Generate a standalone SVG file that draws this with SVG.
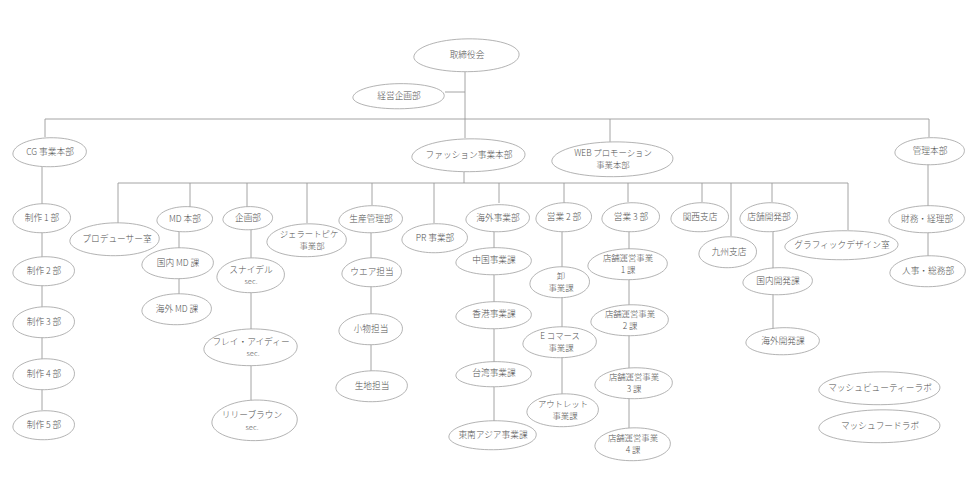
<svg xmlns="http://www.w3.org/2000/svg" xmlns:xlink="http://www.w3.org/1999/xlink" width="980" height="500" viewBox="0 0 980 500">
<style>
.bg{fill:#ffffff}
.c{fill:none;stroke:#9a9a9a;stroke-width:0.9}
.b{fill:#ffffff;stroke:#a0a0a0;stroke-width:0.8}
text{font-family:"Noto Sans CJK JP","Noto Sans",sans-serif;font-size:8.7px;fill:#505050;text-anchor:middle;font-weight:300}
text.t{font-size:8.4px}
text.s{font-size:7.5px;fill:#666666}
</style>
<defs>
<path id="blob" d="M -1,0.05 C -0.95,-0.55 -0.45,-0.98 0.1,-0.95 C 0.65,-0.92 1.02,-0.5 0.98,0.05 C 0.95,0.6 0.5,1.02 -0.1,0.98 C -0.62,0.95 -1.04,0.55 -1,0.05 Z" vector-effect="non-scaling-stroke"/>
</defs>
<rect class="bg" x="0" y="0" width="980" height="500"/>
<g id="connectors">
<path class="c" d="M465,72 V138 M445,92 H465 M45,119 H929 M45,119 V137 M610,119 V142 M929,119 V137"/>
<path class="c" d="M42,167 V410"/>
<path class="c" d="M464,172 V183 M118,183 H848 M118,183 V223 M190,183 V207 M247,183 V207 M307,183 V223 M372,183 V205 M434,183 V223 M499,183 V203 M564,183 V203 M628,183 V202 M702,183 V202 M731,183 V236 M772,183 V202 M848,183 V230"/>
<path class="c" d="M179,219 V300 M251,218 V420 M371,219 V386 M494,218 V435 M562,217 V410 M629,217 V444 M773,217 V341 M928,151 V271"/>
</g>
<g id="n-torishimari"><use class="b" xlink:href="#blob" transform="translate(467,55) scale(53,17)"/><text x="467" y="58">取締役会</text></g>
<g id="n-keiei"><use class="b" xlink:href="#blob" transform="translate(399,96) scale(46,13)"/><text x="399" y="99">経営企画部</text></g>
<g id="n-cg"><use class="b" xlink:href="#blob" transform="translate(50,152) scale(37,15)"/><text x="50" y="155">CG 事業本部</text></g>
<g id="n-fashion"><use class="b" xlink:href="#blob" transform="translate(469,155) scale(57,17)"/><text x="469" y="158">ファッション事業本部</text></g>
<g id="n-web"><use class="b" xlink:href="#blob" transform="translate(613,159) scale(61,18)"/><text class="t" x="613" y="156">WEB プロモーション</text><text class="t" x="613" y="168">事業本部</text></g>
<g id="n-kanri"><use class="b" xlink:href="#blob" transform="translate(930,151) scale(35,14)"/><text x="930" y="154">管理本部</text></g>
<g id="n-seisaku1"><use class="b" xlink:href="#blob" transform="translate(42,218) scale(29,15)"/><text x="42" y="221">制作 1 部</text></g>
<g id="n-seisaku2"><use class="b" xlink:href="#blob" transform="translate(44,271) scale(31,15)"/><text x="44" y="274">制作 2 部</text></g>
<g id="n-seisaku3"><use class="b" xlink:href="#blob" transform="translate(44,322) scale(31,16)"/><text x="44" y="325">制作 3 部</text></g>
<g id="n-seisaku4"><use class="b" xlink:href="#blob" transform="translate(44,374) scale(31,16)"/><text x="44" y="377">制作 4 部</text></g>
<g id="n-seisaku5"><use class="b" xlink:href="#blob" transform="translate(44,425) scale(31,15)"/><text x="44" y="428">制作 5 部</text></g>
<g id="n-producer"><use class="b" xlink:href="#blob" transform="translate(115,239) scale(45,17)"/><text x="117" y="242">プロデューサー室</text></g>
<g id="n-md"><use class="b" xlink:href="#blob" transform="translate(185,219) scale(28,13)"/><text x="185" y="222">MD 本部</text></g>
<g id="n-kikaku"><use class="b" xlink:href="#blob" transform="translate(248,218) scale(25,12)"/><text x="248" y="221">企画部</text></g>
<g id="n-gelato"><use class="b" xlink:href="#blob" transform="translate(307,240) scale(40,17)"/><text class="t" x="309" y="237">ジェラートピケ</text><text class="t" x="312" y="249">事業部</text></g>
<g id="n-seisan"><use class="b" xlink:href="#blob" transform="translate(371,219) scale(32,14)"/><text x="371" y="222">生産管理部</text></g>
<g id="n-pr"><use class="b" xlink:href="#blob" transform="translate(435,238) scale(33,15)"/><text x="435" y="241">PR 事業部</text></g>
<g id="n-kaigai"><use class="b" xlink:href="#blob" transform="translate(498,218) scale(32,14)"/><text x="498" y="221">海外事業部</text></g>
<g id="n-eigyo2"><use class="b" xlink:href="#blob" transform="translate(564,217) scale(28,15)"/><text x="564" y="220">営業 2 部</text></g>
<g id="n-eigyo3"><use class="b" xlink:href="#blob" transform="translate(631,217) scale(29,15)"/><text x="631" y="220">営業 3 部</text></g>
<g id="n-kansai"><use class="b" xlink:href="#blob" transform="translate(700,217) scale(29,15)"/><text x="700" y="220">関西支店</text></g>
<g id="n-kyushu"><use class="b" xlink:href="#blob" transform="translate(728,252) scale(29,16)"/><text x="729" y="255">九州支店</text></g>
<g id="n-tenpokaihatsu"><use class="b" xlink:href="#blob" transform="translate(769,217) scale(29,15)"/><text x="769" y="220">店舗開発部</text></g>
<g id="n-graphic"><use class="b" xlink:href="#blob" transform="translate(842,245) scale(57,15)"/><text x="842" y="248">グラフィックデザイン室</text></g>
<g id="n-kokunaimd"><use class="b" xlink:href="#blob" transform="translate(178,263) scale(36,16)"/><text x="178" y="266">国内 MD 課</text></g>
<g id="n-kaigaimd"><use class="b" xlink:href="#blob" transform="translate(177,309) scale(35,16)"/><text x="177" y="312">海外 MD 課</text></g>
<g id="n-snidel"><use class="b" xlink:href="#blob" transform="translate(251,275) scale(34,18)"/><text x="251" y="273">スナイデル</text><text class="s" x="251" y="284">sec.</text></g>
<g id="n-fray"><use class="b" xlink:href="#blob" transform="translate(251,347) scale(47,19)"/><text x="251" y="345">フレイ・アイディー</text><text class="s" x="253" y="356">sec.</text></g>
<g id="n-lily"><use class="b" xlink:href="#blob" transform="translate(255,420) scale(43,21)"/><text x="252" y="418">リリーブラウン</text><text class="s" x="252" y="430">sec.</text></g>
<g id="n-wear"><use class="b" xlink:href="#blob" transform="translate(372,272) scale(30,15)"/><text x="372" y="275">ウエア担当</text></g>
<g id="n-komono"><use class="b" xlink:href="#blob" transform="translate(371,329) scale(32,16)"/><text x="371" y="332">小物担当</text></g>
<g id="n-kiji"><use class="b" xlink:href="#blob" transform="translate(372,386) scale(36,16)"/><text x="372" y="389">生地担当</text></g>
<g id="n-china"><use class="b" xlink:href="#blob" transform="translate(494,261) scale(38,14)"/><text x="494" y="263">中国事業課</text></g>
<g id="n-hk"><use class="b" xlink:href="#blob" transform="translate(494,315) scale(38,14)"/><text x="494" y="317">香港事業課</text></g>
<g id="n-tw"><use class="b" xlink:href="#blob" transform="translate(494,374) scale(38,13)"/><text x="494" y="376">台湾事業課</text></g>
<g id="n-sea"><use class="b" xlink:href="#blob" transform="translate(493,435) scale(44,15)"/><text x="493" y="438">東南アジア事業課</text></g>
<g id="n-oroshi"><use class="b" xlink:href="#blob" transform="translate(560,282) scale(30,16)"/><text class="t" x="561" y="279">卸</text><text class="t" x="561" y="291">事業課</text></g>
<g id="n-ec"><use class="b" xlink:href="#blob" transform="translate(560,342) scale(37,16)"/><text class="t" x="560" y="339">E コマース</text><text class="t" x="561" y="351">事業課</text></g>
<g id="n-outlet"><use class="b" xlink:href="#blob" transform="translate(563,410) scale(36,17)"/><text class="t" x="563" y="407">アウトレット</text><text class="t" x="565" y="419">事業課</text></g>
<g id="n-tenpo1"><use class="b" xlink:href="#blob" transform="translate(628,264) scale(40,16)"/><text class="t" x="628" y="261">店舗運営事業</text><text class="t" x="628" y="273">1 課</text></g>
<g id="n-tenpo2"><use class="b" xlink:href="#blob" transform="translate(630,320) scale(39,16)"/><text class="t" x="630" y="317">店舗運営事業</text><text class="t" x="630" y="329">2 課</text></g>
<g id="n-tenpo3"><use class="b" xlink:href="#blob" transform="translate(634,383) scale(39,16)"/><text class="t" x="634" y="380">店舗運営事業</text><text class="t" x="634" y="392">3 課</text></g>
<g id="n-tenpo4"><use class="b" xlink:href="#blob" transform="translate(633,444) scale(38,17)"/><text class="t" x="633" y="441">店舗運営事業</text><text class="t" x="633" y="453">4 課</text></g>
<g id="n-kokunaikaihatsu"><use class="b" xlink:href="#blob" transform="translate(778,281) scale(35,14)"/><text x="778" y="284">国内開発課</text></g>
<g id="n-kaigaikaihatsu"><use class="b" xlink:href="#blob" transform="translate(783,341) scale(37,14)"/><text x="783" y="344">海外開発課</text></g>
<g id="n-zaimu"><use class="b" xlink:href="#blob" transform="translate(927,219) scale(38,14)"/><text x="927" y="222">財務・経理部</text></g>
<g id="n-jinji"><use class="b" xlink:href="#blob" transform="translate(928,271) scale(38,16)"/><text x="928" y="274">人事・総務部</text></g>
<g id="n-beauty"><use class="b" xlink:href="#blob" transform="translate(880,388) scale(61,17)"/><text x="880" y="391">マッシュビューティーラボ</text></g>
<g id="n-food"><use class="b" xlink:href="#blob" transform="translate(880,426) scale(61,17)"/><text x="880" y="429">マッシュフードラボ</text></g>
</svg>
